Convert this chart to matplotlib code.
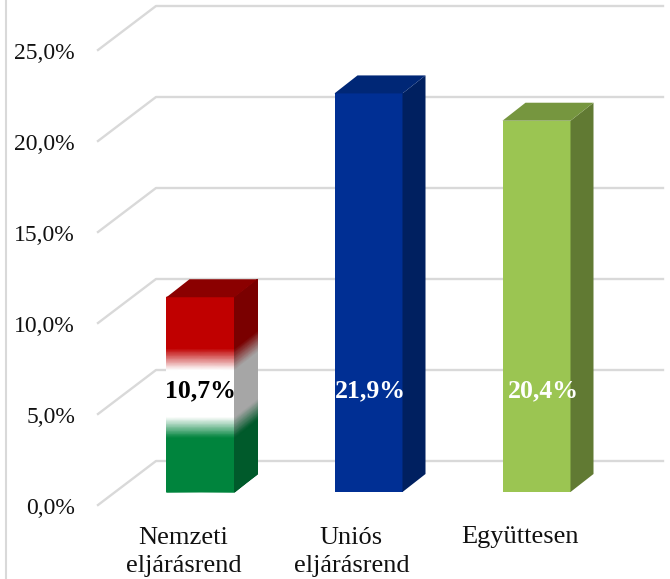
import numpy as np
import matplotlib
matplotlib.use('Agg')
import matplotlib.pyplot as plt
from matplotlib.colors import LinearSegmentedColormap
from matplotlib.lines import Line2D
from matplotlib.patches import Polygon

plt.rcParams['font.family'] = ['Liberation Serif', 'DejaVu Serif']

categories = ['Nemzeti\neljárásrend', 'Uniós\neljárásrend', 'Együttesen']
values = [10.7, 21.9, 20.4]
value_labels = ['10,7%', '21,9%', '20,4%']
label_colors = ['black', 'white', 'white']
grid_values = [0, 5, 10, 15, 20, 25]
grid_labels = ['0,0%', '5,0%', '10,0%', '15,0%', '20,0%', '25,0%']

# front, top, side colours of the plain bars
bar_colors = [None, ('#002F94', '#002776', '#002060'), ('#9BC552', '#76963F', '#617A33')]

# flag gradient of the first bar, from bottom to top
flag_stops = [0, 0.28, 0.385, 0.63, 0.74, 1]
flag_front = ['#00843D', '#00843D', 'white', 'white', '#C00000', '#C00000']
flag_side = ['#005A2B', '#005A2B', '#A6A6A6', '#A6A6A6', '#7A0000', '#7A0000']
flag_top = '#8B0000'

# scale of the picture: 168 px per category, 18.2 px per percent
px_x = 168
px_y = 18.2
x0_px = 200.5
y0_px = 492
W, H = 670, 579
bar_w = 68 / px_x
dx = 23 / px_x
dy = 18 / px_y

# the value labels are not quite centred on the bars
label_shift = [0, 2, 7]

fig = plt.figure(figsize=(W / 100, H / 100), dpi=100)
ax = fig.add_axes([0, 0, 1, 1])
ax.set_xlim(-x0_px / px_x, (W - x0_px) / px_x)
ax.set_ylim((y0_px - H) / px_y, y0_px / px_y)
ax.axis('off')


def to_x(px):
    return (px - x0_px) / px_x


# gridlines: horizontal on the back wall, slanted on the floor side
for v, lab in zip(grid_values, grid_labels):
    back = v + 31 / px_y
    front = v - 13 / px_y
    ax.plot([to_x(98), to_x(156), to_x(663)], [front, back, back], color='#D9D9D9', lw=1.7, zorder=1)
    ax.text(to_x(75), v - 16.5 / px_y, lab, ha='right', va='center', fontsize=17, color='#111111')


def gradient_face(xs, y_bottom, y_top, shear, stops, colors):
    cmap = LinearSegmentedColormap.from_list('flag', list(zip(stops, colors)))
    t = np.linspace(0, 1, 200)
    X, T = np.meshgrid(xs, t)
    Y = y_bottom + (y_top - y_bottom) * T + shear * (X - xs[0]) / (xs[-1] - xs[0])
    ax.pcolormesh(X, Y, np.tile(t[:, None], (1, len(xs))), cmap=cmap, shading='gouraud',
                  vmin=0, vmax=1, zorder=3)


for i, v in enumerate(values):
    left = i - bar_w / 2
    right = i + bar_w / 2
    if bar_colors[i] is None:
        gradient_face(np.array([left, right]), 0, v, 0, flag_stops, flag_front)
        gradient_face(np.array([right, right + dx]), 0, v, dy, flag_stops, flag_side)
        top_color = flag_top
    else:
        front_c, top_color, side_c = bar_colors[i]
        ax.bar(i, v, width=bar_w, color=front_c, zorder=3)
        ax.add_patch(Polygon([(right, 0), (right + dx, dy), (right + dx, v + dy), (right, v)],
                             facecolor=side_c, zorder=3))
    ax.add_patch(Polygon([(left, v), (left + dx, v + dy), (right + dx, v + dy), (right, v)],
                         facecolor=top_color, zorder=3))
    ax.text(i + label_shift[i] / px_x, 5.55, value_labels[i], ha='center', va='center', fontsize=18.5,
            fontweight='bold', color=label_colors[i], zorder=4)
    ax.text(i - 17 / px_x, -34.5 / px_y, categories[i], ha='center', va='top', fontsize=19,
            color='#111111', linespacing=1.4, zorder=4)

# chart frame, only the left edge is inside the crop
fig.add_artist(Line2D([5.5 / W, 5.5 / W], [0, 1], color='#D9D9D9', lw=1.5))

fig.savefig('out.png', dpi=100)
